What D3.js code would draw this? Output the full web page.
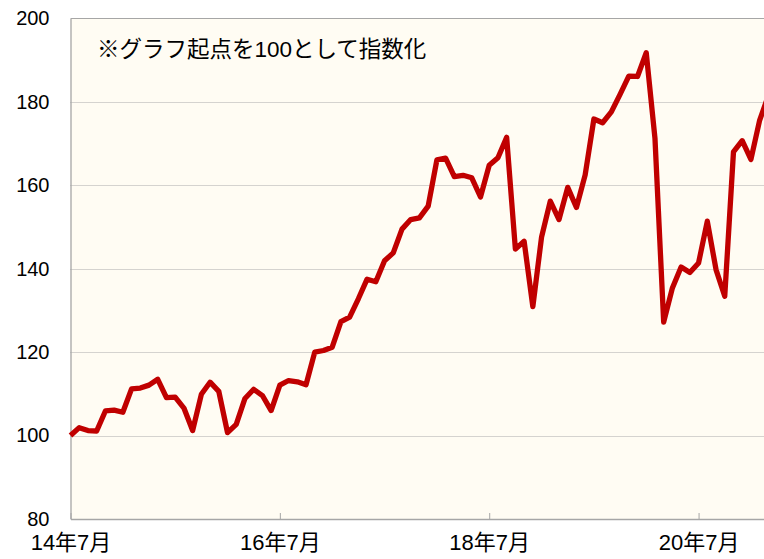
<!DOCTYPE html>
<html lang="ja">
<head>
<meta charset="utf-8">
<script src="https://cdn.jsdelivr.net/npm/d3@7"></script>
<style>
  html, body { margin: 0; padding: 0; background: #ffffff; overflow: hidden; }
  #chart { display: block; }
</style>
</head>
<body>
<svg id="chart" width="764" height="559"></svg>
<script>
// -- Data --
// Monthly index values, starting 2014年7月 (index 0)
const monthIndex = d3.range(81);
const indexValues = [
  100, 101.9, 101.2, 101.1, 105.9, 106.1, 105.6, 111.2, 111.4, 112.1,
  113.5, 109.1, 109.2, 106.6, 101.2, 109.9, 112.8, 110.6, 100.7, 102.7,
  108.9, 111.1, 109.6, 106.0, 112.1, 113.2, 112.9, 112.2, 120.0, 120.4,
  121.2, 127.3, 128.4, 132.8, 137.5, 136.9, 141.9, 143.8, 149.5, 151.8,
  152.2, 155.0, 166.1, 166.5, 162.1, 162.4, 161.8, 157.2, 164.8, 166.6,
  171.5, 144.7, 146.6, 130.9, 147.6, 156.2, 151.8, 159.5, 154.7, 162.5,
  175.9, 175.0, 177.6, 181.8, 186.2, 186.1, 191.8, 171.3, 127.2, 135.4,
  140.4, 139.1, 141.4, 151.4, 139.8, 133.4, 168.0, 170.7, 166.2, 175.6,
  181.5
];
const xTickMonths = [0, 24, 48, 72];
const xTickLabels = ["14年7月", "16年7月", "18年7月", "20年7月"];
const yTicks = [80, 100, 120, 140, 160, 180, 200];
const noteText = "※グラフ起点を100として指数化";

const svg = d3.select("#chart");
const width = 764, height = 559;
const FONT = "'Liberation Sans', Arial, 'Noto Sans CJK JP', sans-serif";

// -- Scales --
const plot = { left: 70.5, top: 18.5, bottom: 519 };
const x = d3.scaleLinear().domain([0, 79.5]).range([plot.left, width]);
const y = d3.scaleLinear().domain([80, 200]).range([plot.bottom, plot.top]);

// plot background (runs off the right edge like the source)
svg.append("rect")
  .attr("x", plot.left).attr("y", plot.top)
  .attr("width", width - plot.left).attr("height", plot.bottom - plot.top)
  .attr("fill", "#fffcf3");

// dotted gridlines
svg.append("g")
  .selectAll("line")
  .data(yTicks.filter(d => d > 80 && d < 200))
  .join("line")
  .attr("x1", plot.left).attr("x2", width)
  .attr("y1", d => Math.round(y(d)) + 0.5).attr("y2", d => Math.round(y(d)) + 0.5)
  .attr("stroke", "#ababab")
  .attr("stroke-width", 1)
  .attr("stroke-dasharray", "1,1");

// top border + left axis + bottom axis
svg.append("line")
  .attr("x1", plot.left).attr("x2", width)
  .attr("y1", plot.top).attr("y2", plot.top)
  .attr("stroke", "#a6a6a6");

const yAxis = d3.axisLeft(y).tickValues(yTicks).tickSize(0).tickPadding(21);
svg.append("g")
  .attr("transform", `translate(${plot.left},0)`)
  .call(yAxis)
  .call(g => g.select(".domain").attr("stroke", "#a6a6a6").attr("stroke-width", 1.3))
  .call(g => g.selectAll("text")
    .attr("fill", "#000")
    .style("font-family", FONT)
    .style("font-size", "20px"));

const xAxis = d3.axisBottom(x)
  .tickValues(xTickMonths)
  .tickFormat((d, i) => xTickLabels[i])
  .tickSizeInner(-6).tickSizeOuter(0).tickPadding(15);
svg.append("g")
  .attr("transform", `translate(0,${plot.bottom})`)
  .call(xAxis)
  .call(g => g.select(".domain").attr("stroke", "#a6a6a6").attr("stroke-width", 1.3))
  .call(g => g.selectAll(".tick line").attr("stroke", "#a6a6a6"))
  .call(g => g.selectAll("text")
    .attr("fill", "#000")
    .style("font-family", FONT)
    .style("font-size", "22px"));

// -- Line --
const line = d3.line()
  .x((d, i) => x(monthIndex[i]))
  .y(d => y(d));

svg.append("path")
  .datum(indexValues)
  .attr("d", line)
  .attr("fill", "none")
  .attr("stroke", "#c00000")
  .attr("stroke-width", 5.3)
  .attr("stroke-linejoin", "round");

// -- Note --
svg.append("text")
  .attr("x", 97).attr("y", 56.5)
  .attr("fill", "#000")
  .style("font-family", FONT)
  .style("font-size", "22.5px")
  .text(noteText);
</script>
</body>
</html>
